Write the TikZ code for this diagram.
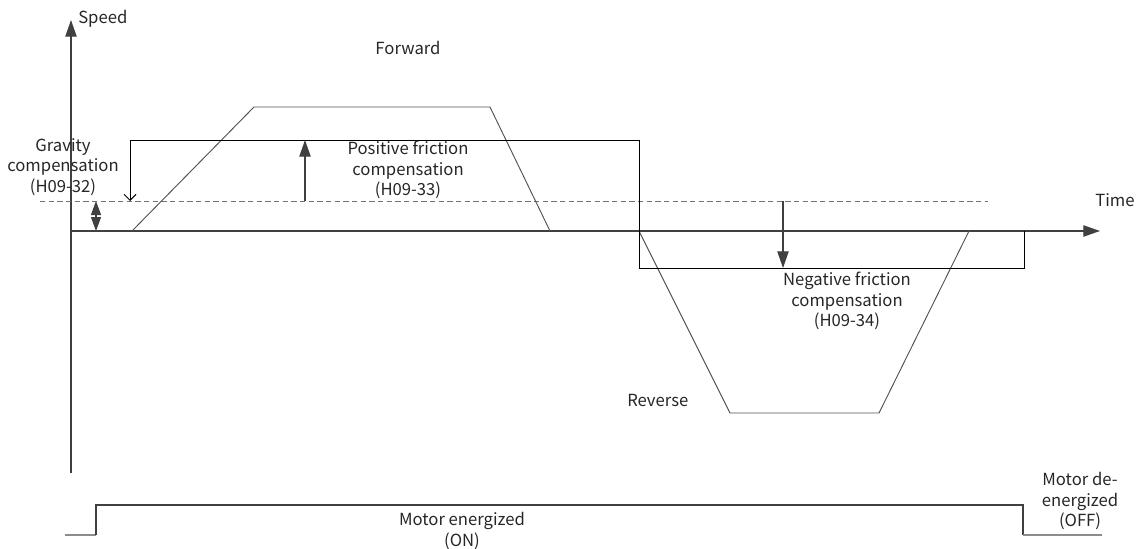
\documentclass[tikz,border=0pt]{standalone}
\usepackage{fontspec}
\setmainfont{Noto Sans CJK SC}
\usetikzlibrary{arrows.meta}

\begin{document}
\begin{tikzpicture}[x=0.75pt, y=-0.75pt,
    every node/.style={font=\fontsize{12.5}{15.4}\selectfont, text=black!85, align=center, inner sep=0pt},
    axis/.style={draw=black!75, line width=0.9pt},
    curve/.style={draw=black!68, line width=0.7pt},
    comp/.style={draw=black, line width=0.7pt},
    tip/.style={-{Triangle[length=12.5pt, width=8.5pt]}},
    tiptwo/.style={{Triangle[length=10.5pt, width=7.5pt]}-{Triangle[length=10.5pt, width=7.5pt]}}]
    \useasboundingbox (0,0) rectangle (1141,549);

    % Achsen
    \draw[axis, tip] (71,473) -- (71,20);
    \draw[axis, tip] (71,231) -- (1100,231);
    \node[anchor=west] (speed) at (78,19) {Speed};
    \node[anchor=west] (time) at (1095,200) {Time};

    % Schwerkraftniveau
    \draw[black!55, line width=0.75pt, dash pattern=on 4pt off 2.5pt] (40,201) -- (988,201);

    % Geschwindigkeit vorwaerts / rueckwaerts
    \draw[curve] (132,231) -- (254,107) -- (490,107) -- (550,231);
    \draw[curve] (639,231) -- (730,413) -- (879,413) -- (969,231);
    \node (fwd) at (408,48) {Forward};
    \node[anchor=west] (rev) at (627,400) {Reverse};

    % Kompensation
    \draw[comp, -{Straight Barb[length=4.5pt, width=9pt]}] (1024,231) |- (639,268) |- (130,140) -- (130,201);
    \draw[axis, tip] (305,201) -- (305,140);
    \draw[axis, tip] (783,201) -- (783,268);
    \draw[axis, tiptwo] (96,231) -- (96,201);

    \node (grav) at (63,167) {Gravity\\compensation\\(H09-32)};
    \node (posf) at (408,170) {Positive friction\\compensation\\(H09-33)};
    \node (negf) at (847,301) {Negative friction\\compensation\\(H09-34)};

    % Motorzustand
    \draw[black!45, line width=1pt] (65,535) -- (96,535);
    \draw[axis] (96,535) -- (96,505) -- (1023,505) -- (1023,535);
    \draw[black!45, line width=1pt] (1023,535) -- (1102,535);
    \node (on) at (462,531) {Motor energized\\(ON)};
    \node (off) at (1080,501) {Motor de-\\energized\\(OFF)};
\end{tikzpicture}
\end{document}
